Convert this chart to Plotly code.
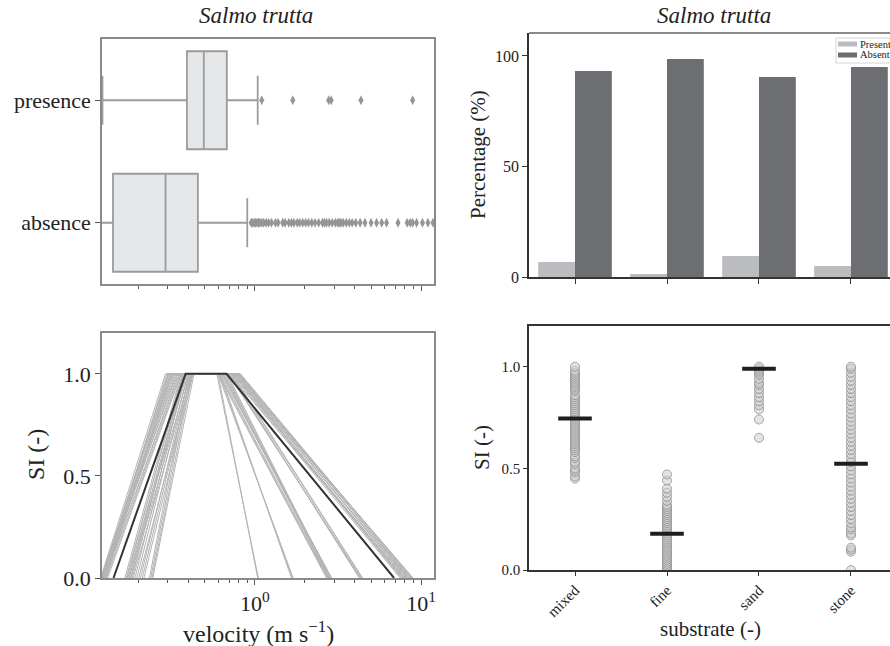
import plotly.graph_objects as go

# ---------------- data ----------------
groups = ["presence", "absence"]
box_q1 = [0.39, 0.14]
box_median = [0.493, 0.29]
box_q3 = [0.678, 0.454]
box_low = [0.121, 0.11]
box_high = [1.04, 0.90]

presence_outliers = [1.10, 1.69, 2.78, 2.88, 4.35, 8.9]
absence_outliers = [0.95, 0.97, 0.99, 1.01, 1.03, 1.05, 1.07, 1.10, 1.13, 1.17, 1.21,
                    1.26, 1.33, 1.38, 1.47, 1.52, 1.60, 1.66, 1.72, 1.80, 1.86, 1.94,
                    2.02, 2.10, 2.20, 2.30, 2.42, 2.55, 2.62, 2.70, 2.80, 2.92, 3.05,
                    3.15, 3.22, 3.30, 3.40, 3.55, 3.70, 3.85, 4.05, 4.30, 4.60, 5.00,
                    5.40, 5.80, 6.20, 7.27, 8.25, 8.60, 8.90, 9.40, 10.2, 11.0, 11.8]

# suitability curves (trapezoids on velocity): zero -> one -> one -> zero
curve_a = [0.120, 0.121, 0.119, 0.122, 0.120, 0.123, 0.121, 0.124, 0.120, 0.126,
           0.125, 0.128, 0.130, 0.122, 0.127, 0.118, 0.124, 0.119,
           0.168, 0.172, 0.175, 0.180, 0.185,
           0.190, 0.195, 0.200, 0.205, 0.210, 0.165, 0.170, 0.175, 0.178, 0.183,
           0.232, 0.236, 0.240, 0.243, 0.215]
curve_b = [0.300, 0.305, 0.310, 0.315, 0.320, 0.325, 0.330, 0.335, 0.340, 0.345,
           0.350, 0.355, 0.360, 0.295, 0.310, 0.290, 0.318, 0.302,
           0.370, 0.380, 0.390, 0.400, 0.410,
           0.380, 0.395, 0.420, 0.405, 0.415, 0.360, 0.365, 0.375, 0.385, 0.370,
           0.400, 0.410, 0.420, 0.430, 0.425]
curve_c = [0.780, 0.800, 0.760, 0.790, 0.820, 0.770, 0.740, 0.810, 0.750, 0.730,
           0.800, 0.720, 0.700, 0.780, 0.760, 0.790, 0.805, 0.745,
           0.620, 0.640, 0.600, 0.660, 0.650,
           0.630, 0.610, 0.680, 0.670, 0.640, 0.700, 0.720, 0.690, 0.730, 0.710,
           0.600, 0.620, 0.610, 0.600, 0.590]
curve_d = [8.6, 8.8, 8.3, 8.9, 8.7, 8.1, 7.9, 8.5, 7.6, 7.8,
           8.4, 7.5, 8.0, 8.2, 7.7, 8.95, 8.45, 7.95,
           2.75, 2.80, 2.70, 2.85, 2.78,
           2.90, 2.72, 2.82, 2.76, 2.88, 4.30, 4.40, 4.35, 4.45, 4.25,
           1.70, 1.66, 1.68, 1.04, 1.05]
mean_curve = [0.141, 0.383, 0.675, 6.88]

substrates = ["mixed", "fine", "sand", "stone"]
pct_present = [6.8, 1.4, 9.5, 5.0]
pct_absent = [93.2, 98.6, 90.5, 95.0]
legend_labels = ["Present", "Absent"]

si_mixed = [0.45, 0.46, 0.48, 0.49, 0.50, 0.52, 0.53, 0.55, 0.56, 0.58, 0.59, 0.60,
            0.61, 0.62, 0.63, 0.64, 0.65, 0.66, 0.67, 0.68, 0.69, 0.70, 0.71, 0.72,
            0.73, 0.74, 0.75, 0.76, 0.77, 0.78, 0.79, 0.80, 0.81, 0.82, 0.83, 0.84,
            0.85, 0.86, 0.88, 0.89, 0.90, 0.91, 0.92, 0.93, 0.94, 0.95, 0.96, 0.97,
            0.98, 1.00]
si_fine = [0.00, 0.01, 0.02, 0.03, 0.04, 0.05, 0.06, 0.07, 0.08, 0.09, 0.10, 0.11,
           0.12, 0.13, 0.14, 0.15, 0.16, 0.17, 0.18, 0.19, 0.20, 0.21, 0.22, 0.23,
           0.24, 0.25, 0.26, 0.27, 0.28, 0.29, 0.30, 0.31, 0.32, 0.34, 0.36, 0.38,
           0.40, 0.44, 0.47]
si_sand = [0.65, 0.74, 0.79, 0.81, 0.83, 0.85, 0.87, 0.89, 0.91, 0.92, 0.94, 0.96,
           0.97, 0.98, 0.99, 1.00]
si_stone = [0.00, 0.09, 0.10, 0.11, 0.17, 0.18, 0.20, 0.21, 0.23, 0.25, 0.27, 0.29,
            0.31, 0.33, 0.35, 0.37, 0.39, 0.41, 0.43, 0.45, 0.47, 0.49, 0.51, 0.53,
            0.55, 0.57, 0.59, 0.61, 0.63, 0.65, 0.67, 0.69, 0.71, 0.73, 0.75, 0.77,
            0.79, 0.81, 0.83, 0.85, 0.87, 0.89, 0.91, 0.93, 0.95, 0.97, 0.99, 1.00]
si_mean = [0.745, 0.178, 0.99, 0.523]

velocity_ticks = [1, 10]
velocity_ticktext = ["10<sup>0</sup>", "10<sup>1</sup>"]
velocity_minor = [0.2, 0.3, 0.4, 0.5, 0.6, 0.7, 0.8, 0.9, 2, 3, 4, 5, 6, 7, 8, 9]

# ---------------- styling ----------------
SERIF = "Liberation Serif"
TXT = "#222222"
SPINE_GRAY = "#8a8a8a"
SPINE_DARK = "#333333"
PRESENT_COLOR = "#bbbcbf"
ABSENT_COLOR = "#6d6e71"

fig = go.Figure()

# --- top left: velocity box plot ---
fig.add_trace(go.Box(
    y=groups, q1=box_q1, median=box_median, q3=box_q3,
    lowerfence=box_low, upperfence=box_high, orientation="h",
    width=0.8, whiskerwidth=0.5, fillcolor="#e6e7e8",
    line=dict(color="#9a9b9d", width=1.8), boxpoints=False,
    xaxis="x", yaxis="y", showlegend=False, hoverinfo="skip"))
outlier_x = presence_outliers + absence_outliers
outlier_y = ["presence"] * len(presence_outliers) + ["absence"] * len(absence_outliers)
fig.add_trace(go.Scatter(
    x=outlier_x, y=outlier_y, mode="markers",
    marker=dict(symbol="diamond-tall", size=7, color="#949598"),
    xaxis="x", yaxis="y", showlegend=False, cliponaxis=True))

# --- bottom left: suitability curves ---
for a, b, c, d in zip(curve_a, curve_b, curve_c, curve_d):
    fig.add_trace(go.Scatter(
        x=[a, b, c, d], y=[0, 1, 1, 0], mode="lines",
        line=dict(color="#b4b4b4", width=1), xaxis="x2", yaxis="y2",
        showlegend=False, hoverinfo="skip"))
fig.add_trace(go.Scatter(
    x=mean_curve, y=[0, 1, 1, 0], mode="lines",
    line=dict(color="#333333", width=2), xaxis="x2", yaxis="y2",
    showlegend=False))

# --- top right: percentage bars ---
fig.add_trace(go.Bar(x=substrates, y=pct_present, name=legend_labels[0],
                     marker=dict(color=PRESENT_COLOR, line=dict(width=0)),
                     xaxis="x3", yaxis="y3", showlegend=False))
fig.add_trace(go.Bar(x=substrates, y=pct_absent, name=legend_labels[1],
                     marker=dict(color=ABSENT_COLOR, line=dict(width=0)),
                     xaxis="x3", yaxis="y3", showlegend=False))

# --- bottom right: suitability per substrate ---
strip_x, strip_y = [], []
for name, vals in zip(substrates, [si_mixed, si_fine, si_sand, si_stone]):
    strip_x += [name] * len(vals)
    strip_y += vals
fig.add_trace(go.Scatter(
    x=strip_x, y=strip_y, mode="markers",
    marker=dict(symbol="circle", size=9, color="rgba(205,205,205,0.55)",
                line=dict(color="rgba(140,140,140,0.75)", width=1)),
    xaxis="x4", yaxis="y4", showlegend=False))
fig.add_trace(go.Scatter(
    x=substrates, y=si_mean, mode="markers",
    marker=dict(symbol="line-ew", size=24, line=dict(color="#1e1e1e", width=4)),
    xaxis="x4", yaxis="y4", showlegend=False))

W, H = 890, 646
def px_x(p):
    return p / W
def px_y(p):
    return 1 - p / H

log_range = [-0.92, 1.078]
minor_cfg = dict(tickvals=velocity_minor, ticks="outside", ticklen=3,
                 tickcolor="#555555", tickwidth=1)

fig.update_layout(
    width=W, height=H,
    margin=dict(l=0, r=0, t=0, b=0, autoexpand=False),
    paper_bgcolor="white", plot_bgcolor="white",
    font=dict(family=SERIF, color=TXT),
    barmode="group", bargap=0.2, bargroupgap=0,
    showlegend=False,
    xaxis=dict(domain=[px_x(102), px_x(434)], anchor="y", type="log",
               range=log_range, showline=True, linecolor=SPINE_GRAY, linewidth=1.5,
               mirror=True, showgrid=False, zeroline=False,
               tickvals=velocity_ticks, showticklabels=False, ticks="outside",
               ticklen=5, tickcolor="#555555", minor=minor_cfg),
    yaxis=dict(domain=[px_y(284), px_y(39)], anchor="x", type="category",
               categoryorder="array", categoryarray=["absence", "presence"],
               range=[-0.5, 1.5], showline=True, linecolor=SPINE_GRAY,
               linewidth=1.5, mirror=True, showgrid=False, ticks="outside",
               ticklen=5, tickcolor="#555555",
               tickfont=dict(size=22, family=SERIF, color=TXT)),
    xaxis2=dict(domain=[px_x(102), px_x(434)], anchor="y2", type="log",
                range=log_range, showline=True, linecolor=SPINE_GRAY, linewidth=1.5,
                mirror=True, showgrid=False, zeroline=False,
                tickvals=velocity_ticks, ticktext=velocity_ticktext,
                ticks="outside", ticklen=5, tickcolor="#555555",
                tickfont=dict(size=22, family=SERIF, color=TXT), minor=minor_cfg),
    yaxis2=dict(domain=[px_y(578), px_y(333)], anchor="x2", range=[0, 1.2],
                showline=True, linecolor=SPINE_GRAY, linewidth=1.5, mirror=True,
                showgrid=False, zeroline=False, tickvals=[0, 0.5, 1.0],
                ticktext=["0.0", "0.5", "1.0"], ticks="outside", ticklen=5,
                tickcolor="#555555", tickfont=dict(size=22, family=SERIF, color=TXT)),
    xaxis3=dict(domain=[px_x(529), 1.0], anchor="y3", type="category",
                categoryorder="array", categoryarray=substrates,
                range=[-0.5, 3.424], showline=True, linecolor=SPINE_DARK,
                linewidth=1.5, showgrid=False, ticks="outside", ticklen=5,
                tickcolor=SPINE_DARK, showticklabels=False),
    yaxis3=dict(domain=[px_y(277), px_y(33)], anchor="x3", range=[0, 110.4],
                showline=True, linecolor=SPINE_DARK, linewidth=1.5,
                showgrid=False, zeroline=False, tickvals=[0, 50, 100],
                ticks="outside", ticklen=5, tickcolor=SPINE_DARK,
                tickfont=dict(size=16, family=SERIF, color=TXT)),
    xaxis4=dict(domain=[px_x(529), 1.0], anchor="y4", type="category",
                categoryorder="array", categoryarray=substrates,
                range=[-0.5, 3.424], showline=True, linecolor=SPINE_DARK,
                linewidth=1.5, mirror=True, showgrid=False, ticks="outside",
                ticklen=4, tickcolor=SPINE_DARK, tickangle=-45,
                tickfont=dict(size=15, family=SERIF, color=TXT)),
    yaxis4=dict(domain=[px_y(570), px_y(326)], anchor="x4", range=[0, 1.2],
                showline=True, linecolor=SPINE_DARK, linewidth=1.5,
                showgrid=False, zeroline=False, tickvals=[0, 0.5, 1.0],
                ticktext=["0.0", "0.5", "1.0"], ticks="outside", ticklen=4,
                tickcolor=SPINE_DARK, tickfont=dict(size=15, family=SERIF, color=TXT)),
)

# top spine of the bar panel
fig.add_shape(type="line", xref="paper", yref="paper",
              x0=px_x(529), x1=1.0, y0=px_y(33), y1=px_y(33),
              line=dict(color=SPINE_GRAY, width=2))

# compact legend box in the bar panel's upper right corner
fig.add_shape(type="rect", xref="paper", yref="paper",
              x0=px_x(836), x1=px_x(900), y0=px_y(63), y1=px_y(38),
              line=dict(color="#d4d4d4", width=1), fillcolor="white")
for i, (lab, col) in enumerate(zip(legend_labels, [PRESENT_COLOR, ABSENT_COLOR])):
    yc = 44 + 11 * i
    fig.add_shape(type="rect", xref="paper", yref="paper",
                  x0=px_x(838), x1=px_x(857), y0=px_y(yc + 2.5), y1=px_y(yc - 2.5),
                  line=dict(width=0), fillcolor=col)
    fig.add_annotation(text=lab, xref="paper", yref="paper",
                       x=px_x(858), y=px_y(yc), showarrow=False,
                       xanchor="left", yanchor="middle",
                       font=dict(family=SERIF, size=10.5, color=TXT))

def label(text, x, y, size, angle=0):
    fig.add_annotation(text=text, xref="paper", yref="paper",
                       x=px_x(x), y=px_y(y), showarrow=False, textangle=angle,
                       xanchor="center", yanchor="middle",
                       font=dict(family=SERIF, size=size, color=TXT))

label("<i>Salmo trutta</i>", 256, 16, 23)
label("<i>Salmo trutta</i>", 714, 16, 23)
label("velocity (m s<sup>−1</sup>)", 258, 632, 24)
label("SI (-)", 36, 455, 24, -90)
label("Percentage (%)", 478, 155, 21, -90)
label("SI (-)", 482, 448, 21, -90)
label("substrate (-)", 710, 629, 21)

fig.write_html("out.html")
